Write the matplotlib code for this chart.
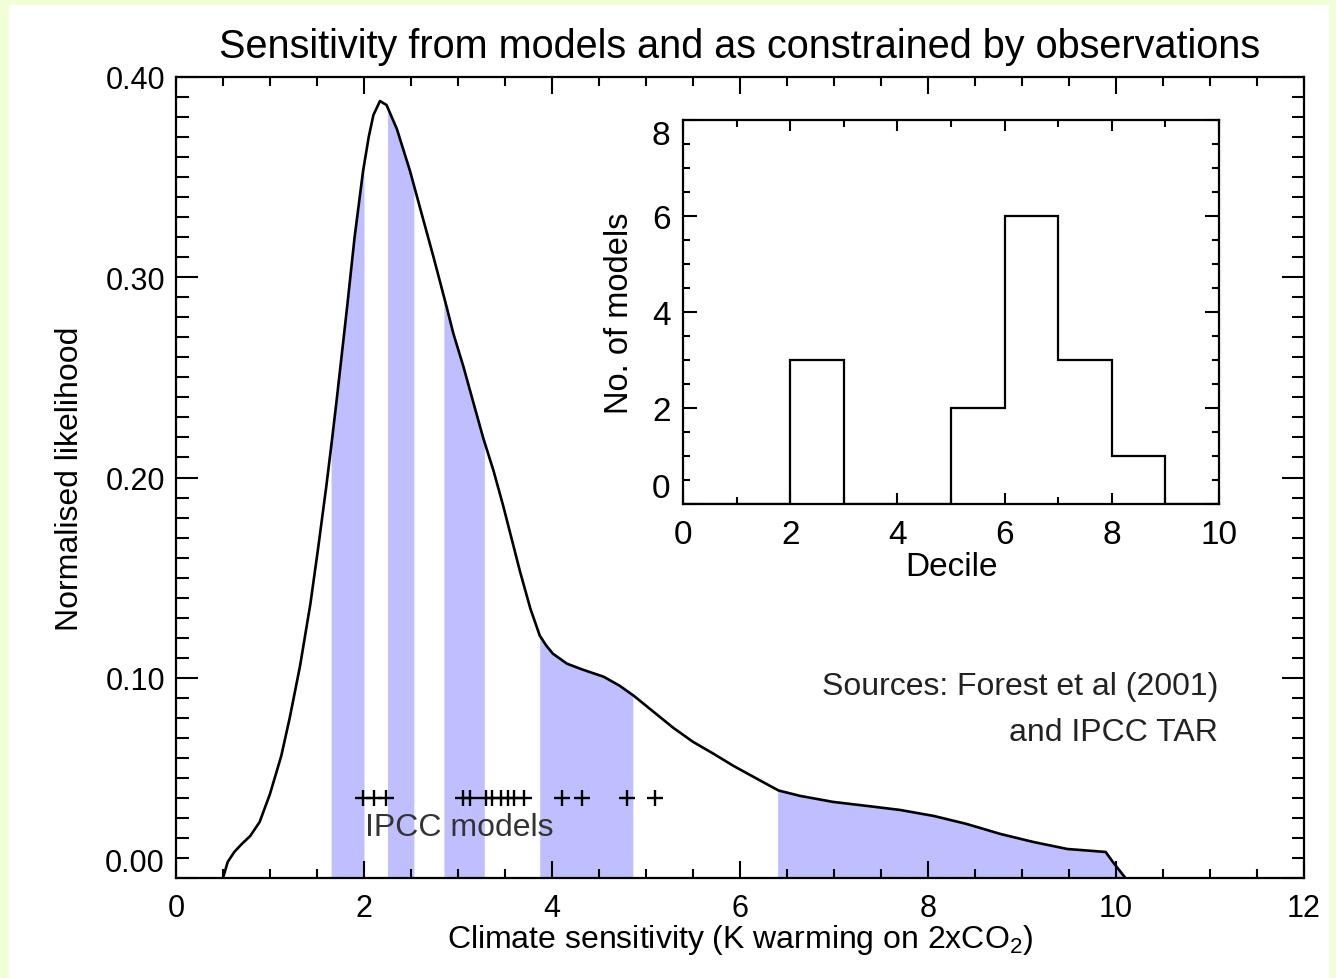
import matplotlib
matplotlib.use('Agg')
import matplotlib.pyplot as plt
import numpy as np
from matplotlib.patches import Rectangle
from matplotlib.ticker import MultipleLocator, FormatStrFormatter

plt.rcParams['font.family'] = ['Liberation Sans', 'DejaVu Sans']
plt.rcParams['mathtext.fontset'] = 'custom'
plt.rcParams['mathtext.rm'] = 'Liberation Sans'
plt.rcParams['mathtext.it'] = 'Liberation Sans:italic'

# ---------------- data ----------------
sensitivity = [0.50, 0.55, 0.62, 0.70, 0.79, 0.89, 1.00, 1.12, 1.21, 1.32, 1.43, 1.51, 1.60,
               1.66, 1.71, 1.82, 1.90, 1.99, 2.05, 2.10, 2.17, 2.24, 2.35, 2.49, 2.60,
               2.74, 2.88, 2.95, 3.06, 3.16, 3.27, 3.38, 3.48, 3.57, 3.66, 3.77, 3.87,
               3.94, 4.01, 4.16, 4.33, 4.55, 4.72, 4.87, 5.08, 5.29, 5.50, 5.72, 5.93,
               6.28, 6.41, 6.64, 6.99, 7.35, 7.70, 8.06, 8.41, 8.77, 9.12, 9.48, 9.89,
               9.97, 10.10]
likelihood = [0.000, 0.008, 0.013, 0.017, 0.021, 0.028, 0.042, 0.061, 0.080, 0.106, 0.137, 0.164,
              0.196, 0.219, 0.239, 0.285, 0.320, 0.353, 0.370, 0.381, 0.388, 0.386, 0.374, 0.353,
              0.334, 0.310, 0.285, 0.272, 0.255, 0.238, 0.2195, 0.203, 0.186, 0.1695, 0.153,
              0.1345, 0.121, 0.1160, 0.112, 0.107, 0.104, 0.1005, 0.096, 0.091, 0.083, 0.075,
              0.068, 0.062, 0.056, 0.047, 0.0437, 0.041, 0.038, 0.036, 0.034, 0.031, 0.027,
              0.022, 0.018, 0.0145, 0.013, 0.0078, 0.000]
decile_bounds = [0.50, 1.65, 2.00, 2.25, 2.53, 2.85, 3.28, 3.87, 4.86, 6.40, 10.10]
model_sensitivities = [1.99, 2.11, 2.23, 3.05, 3.13, 3.30, 3.36, 3.46, 3.53, 3.60, 3.70,
                       4.11, 4.32, 4.80, 5.10]
marker_level = 0.04
main_xticks = [0, 2, 4, 6, 8, 10, 12]
main_yticks = [0.0, 0.1, 0.2, 0.3, 0.4]
decile_edges = [0, 1, 2, 3, 4, 5, 6, 7, 8, 9, 10]
models_per_decile = [0, 0, 3, 0, 0, 2, 6, 3, 1, 0]
inset_xticks = [0, 2, 4, 6, 8, 10]
inset_yticks = [0, 2, 4, 6, 8]

# ---------------- figure ----------------
W, H = 1336, 979
fig = plt.figure(figsize=(W / 100, H / 100), dpi=100, facecolor='#F0FFD8')
fig.patches.append(Rectangle((9 / W, 0), (1329 - 9) / W, (979 - 6) / H,
                             transform=fig.transFigure, facecolor='white',
                             edgecolor='none', zorder=-10))

ax = fig.add_axes([176 / W, 1 - 879 / H, (1304 - 176) / W, (879 - 78) / H])
ax.set_facecolor('none')

xs = np.array(sensitivity)
ys = np.array(likelihood)
band_color = '#BFBFFF'
for i in range(1, len(decile_bounds) - 1, 2):
    lo, hi = decile_bounds[i], decile_bounds[i + 1]
    inner = xs[(xs > lo) & (xs < hi)]
    bx = np.concatenate([[lo], inner, [hi]])
    by = np.interp(bx, xs, ys)
    ax.fill_between(bx, 0, by, color=band_color, linewidth=0, zorder=1)

ax.plot(xs, ys, color='black', linewidth=1.9, zorder=3, solid_joinstyle='round')
ax.plot(model_sensitivities, [marker_level] * len(model_sensitivities),
        linestyle='none', marker='+', markersize=11, markeredgewidth=1.7,
        color='black', zorder=4)

ax.text(2.01, 0.0255, 'IPCC models', fontsize=23, color='#333333',
        ha='left', va='center', zorder=5)
ax.text(11.085, 0.096, 'Sources: Forest et al (2001)', fontsize=23,
        ha='right', va='center', color='#222222')
ax.text(11.085, 0.073, 'and IPCC TAR', fontsize=23,
        ha='right', va='center', color='#222222')

ax.set_xlim(0, 12)
ax.set_ylim(0, 0.40)
ax.set_xticks(main_xticks)
ax.set_yticks(main_yticks)
ax.xaxis.set_minor_locator(MultipleLocator(0.5))
ax.yaxis.set_minor_locator(MultipleLocator(0.01))
ax.yaxis.set_major_formatter(FormatStrFormatter('%.2f'))
ax.tick_params(axis='both', which='both', direction='in', top=True, right=True,
               width=1.5, labelsize=22)
ax.tick_params(axis='x', which='major', length=12, pad=11)
ax.tick_params(axis='x', which='minor', length=6.5)
ax.tick_params(axis='y', which='major', length=16, pad=8)
ax.tick_params(axis='y', which='minor', length=9)
for s in ax.spines.values():
    s.set_linewidth(1.6)

ax.set_xlabel('Climate sensitivity (K warming on 2xCO$_2$)', fontsize=23, va='center')
ax.xaxis.set_label_coords(0.5, (879 - 940) / 801)
ax.set_ylabel('Normalised likelihood', fontsize=23, va='center')
ax.yaxis.set_label_coords((70 - 176) / 1128, 0.5)
ax.set_title('Sensitivity from models and as constrained by observations',
             fontsize=28.5, y=(879 - 47) / 801, va='center', pad=0)

# ---------------- inset ----------------
ax2 = fig.add_axes([683 / W, 1 - 505 / H, 536 / W, 384 / H])
ax2.set_facecolor('white')
ax2.stairs(models_per_decile, decile_edges, color='black', linewidth=1.6)
ax2.set_xlim(0, 10)
ax2.set_ylim(0, 8)
ax2.set_xticks(inset_xticks)
ax2.set_yticks(inset_yticks)
ax2.xaxis.set_minor_locator(MultipleLocator(1))
ax2.yaxis.set_minor_locator(MultipleLocator(0.5))
ax2.tick_params(axis='both', which='both', direction='in', top=True, right=True,
                width=1.5, labelsize=24)
ax2.tick_params(axis='x', which='major', length=8, pad=11)
ax2.tick_params(axis='x', which='minor', length=5)
ax2.tick_params(axis='y', which='major', length=10, pad=9)
ax2.tick_params(axis='y', which='minor', length=5)
for s in ax2.spines.values():
    s.set_linewidth(1.6)
ax2.set_xlabel('Decile', fontsize=24, va='center')
ax2.xaxis.set_label_coords(0.5, (505 - 568) / 384)
ax2.set_ylabel('No. of models', fontsize=23.5, va='center')
ax2.yaxis.set_label_coords((620 - 683) / 536, 0.5)

# draw once so all tick objects exist, then nudge the end labels inward
fig.canvas.draw()
for t in ax.yaxis.get_major_ticks():
    if abs(t.get_loc()) < 1e-9:
        t.label1.set_verticalalignment('bottom')
for t in ax2.yaxis.get_major_ticks():
    loc = t.get_loc()
    if abs(loc - 0) < 1e-9:
        t.label1.set_verticalalignment('bottom')
    elif abs(loc - 8) < 1e-9:
        t.label1.set_verticalalignment('top')

fig.savefig('out.png', dpi=100, facecolor=fig.get_facecolor())
